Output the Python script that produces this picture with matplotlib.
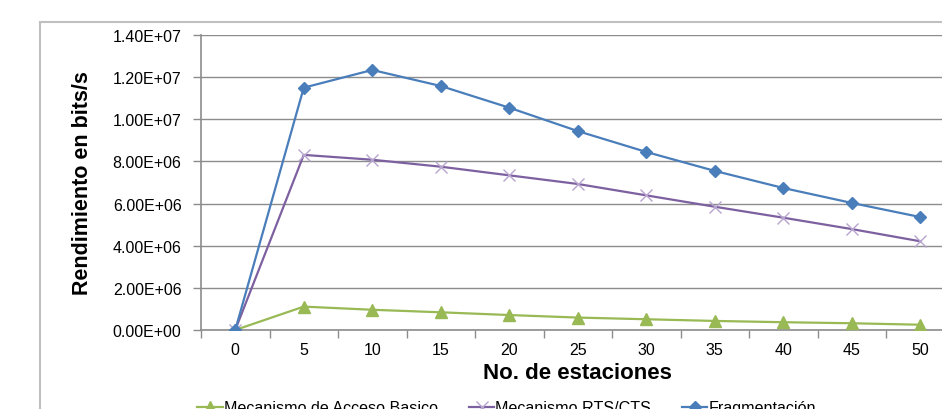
import matplotlib.pyplot as plt
from matplotlib.patches import Rectangle
import numpy as np

plt.rcParams['font.family'] = ['Liberation Sans', 'DejaVu Sans']

# datos de rendimiento por numero de estaciones
estaciones = [0, 5, 10, 15, 20, 25, 30, 35, 40, 45, 50]
basico = [0, 1.11e6, 9.6e5, 8.4e5, 7.1e5, 5.9e5, 5.1e5, 4.3e5, 3.7e5, 3.2e5, 2.5e5]
rts_cts = [0, 8.31e6, 8.08e6, 7.75e6, 7.34e6, 6.93e6, 6.39e6, 5.85e6, 5.33e6, 4.79e6, 4.21e6]
fragmentacion = [0, 1.15e7, 1.234e7, 1.158e7, 1.055e7, 9.44e6, 8.45e6, 7.55e6, 6.74e6, 6.03e6, 5.36e6]
yticks = [0, 2e6, 4e6, 6e6, 8e6, 1e7, 1.2e7, 1.4e7]

fig = plt.figure(figsize=(9.42, 4.10), dpi=100)

# marco del grafico
fig.patches.append(Rectangle((40/942, -0.1), 1.2, 387/410 + 0.1, transform=fig.transFigure,
                             fill=False, edgecolor='#c0c0c0', lw=1.5))

ax = fig.add_axes([201/942, 79/410, 753.5/942, 295/410])
idx = np.arange(len(estaciones))

ax.plot(idx, basico, color='#98b954', lw=1.6, marker='^', ms=8,
        mec='#98b954', mfc='#98b954', label='Mecanismo de Acceso Basico', zorder=3)
ax.plot(idx, rts_cts, color='#7d60a0', lw=1.6, marker='x', ms=9, mew=1.0,
        mec='#b7a5d0', label='Mecanismo RTS/CTS', zorder=3)
ax.plot(idx, fragmentacion, color='#4a7ebb', lw=1.6, marker='D', ms=6,
        mec='#4a7ebb', mfc='#4a7ebb', label='Fragmentación', zorder=4)

ax.set_xlim(-0.5, len(estaciones) - 0.5)
ax.set_ylim(0, 1.4e7)
ax.set_yticks(yticks)
ax.set_yticklabels(['%.2fE+%02d' % (v / 10 ** (int(np.log10(v)) if v else 0), int(np.log10(v)) if v else 0)
                    for v in yticks])
ax.grid(axis='y', color='#8c8c8c', lw=1.0)
ax.set_axisbelow(True)

# ticks entre categorias, etiquetas en el centro
ax.set_xticks(np.arange(-0.5, len(estaciones), 1.0))
ax.set_xticklabels([])
ax.set_xticks(idx, minor=True)
ax.set_xticklabels([str(e) for e in estaciones], minor=True)
ax.tick_params(axis='x', which='major', length=6, color='#8c8c8c', width=1)
ax.tick_params(axis='x', which='minor', length=0, pad=9, labelsize=11.5)
ax.tick_params(axis='y', length=6, color='#8c8c8c', width=1, pad=8, labelsize=11.5)

for s in ['top', 'right']:
    ax.spines[s].set_visible(False)
for s in ['left', 'bottom']:
    ax.spines[s].set_color('#8c8c8c')
    ax.spines[s].set_linewidth(1.2)

ax.set_ylabel('Rendimiento en bits/s', fontsize=15.5, fontweight='bold', labelpad=14)
ax.set_xlabel('No. de estaciones', fontsize=16, fontweight='bold', labelpad=3)

fig.legend(loc='upper left', bbox_to_anchor=(191/942, 15/410), ncol=3, frameon=False,
           fontsize=11.6, handlelength=1.6, handletextpad=0.05, columnspacing=1.9,
           borderaxespad=0)

fig.savefig('out.png', dpi=100)
